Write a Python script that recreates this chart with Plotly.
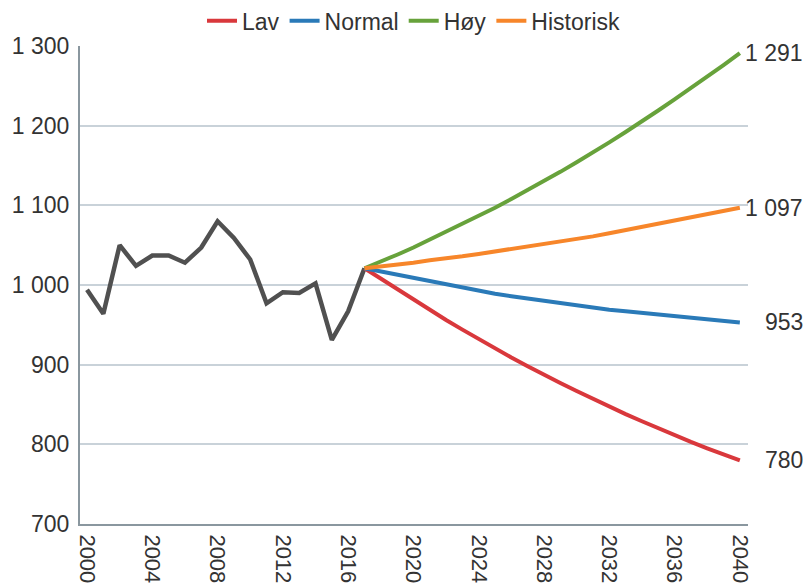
import plotly.graph_objects as go

# Historical series 2000-2017
HIST_YEARS = list(range(2000, 2018))
HIST_VALUES = [994, 964, 1050, 1024, 1037, 1037, 1028, 1047, 1080, 1059,
               1032, 977, 991, 990, 1002, 931, 967, 1021]

# Projections 2017-2040
PROJ_YEARS = list(range(2017, 2041))
LAV = [1021, 1008, 994, 981, 969, 956, 944, 932, 921, 909, 898, 887,
       877, 867, 857, 847, 838, 829, 820, 811, 803, 795, 787, 780]
NORMAL = [1021, 1017, 1013, 1009, 1004, 1000, 996, 992, 989, 986, 983, 980,
          977, 974, 972, 969, 967, 965, 963, 961, 959, 957, 955, 953]
HOY = [1021, 1029, 1038, 1047, 1057, 1066, 1076, 1086, 1097, 1108, 1119, 1130,
       1142, 1154, 1166, 1179, 1192, 1205, 1219, 1233, 1247, 1261, 1276, 1291]
HISTORISK = [1021, 1023, 1026, 1028, 1031, 1033, 1036, 1039, 1042, 1045, 1048, 1051,
             1055, 1058, 1061, 1065, 1069, 1072, 1076, 1080, 1084, 1088, 1093, 1097]

COLORS = {
    "hist": "#505050",
    "lav": "#d9383c",
    "normal": "#2a7ab8",
    "hoy": "#67a23b",
    "historisk": "#f7862a",
    "text": "#333333",
    "grid": "#c9d2d9",
    "axis": "#8a979f",
}
FONT = "Liberation Sans, Arial, sans-serif"

fig = go.Figure()

fig.add_trace(go.Scatter(x=HIST_YEARS, y=HIST_VALUES, mode="lines",
                         line=dict(color=COLORS["hist"], width=4.5),
                         showlegend=False))

series = [("Lav", LAV, "lav"), ("Normal", NORMAL, "normal"),
          ("Høy", HOY, "hoy"), ("Historisk", HISTORISK, "historisk")]
for name, vals, key in series:
    fig.add_trace(go.Scatter(x=PROJ_YEARS, y=vals, name=name, mode="lines",
                             line=dict(color=COLORS[key], width=4)))

# end-value labels
for name, vals, key in series:
    fig.add_annotation(x=1.085, xref="paper", y=vals[-1], yref="y",
                       text=f"{vals[-1]:,}".replace(",", " "),
                       showarrow=False, xanchor="right", yanchor="middle",
                       font=dict(size=23, color=COLORS["text"], family=FONT))

# page body adds an 8px offset, so the figure is 8px smaller than the window
fig.update_layout(
    width=803, height=580,
    paper_bgcolor="white", plot_bgcolor="white",
    font=dict(family=FONT, size=23, color=COLORS["text"]),
    margin=dict(l=72, r=63, t=38, b=64),
    separators=", ",
    legend=dict(orientation="h", x=0.5, xanchor="center", xref="paper",
                y=0.978, yanchor="middle", yref="container",
                itemwidth=30, font=dict(size=23, color=COLORS["text"]),
                bgcolor="rgba(0,0,0,0)"),
)
fig.update_xaxes(range=[1999.57, 2040.5], tick0=2000, dtick=4, tickangle=90,
                 showgrid=False, zeroline=False, showline=True,
                 linecolor=COLORS["axis"], linewidth=2, ticks="",
                 ticklabelstandoff=4, automargin=False,
                 tickfont=dict(size=22, color=COLORS["text"]))
fig.update_yaxes(range=[700, 1300], dtick=100, separatethousands=True,
                 showgrid=True, gridcolor=COLORS["grid"], gridwidth=1.5,
                 zeroline=False, showline=True, linecolor=COLORS["axis"],
                 linewidth=2, ticks="", ticklabelstandoff=4, automargin=False,
                 tickfont=dict(size=23, color=COLORS["text"]))

fig.write_html("out.html")
